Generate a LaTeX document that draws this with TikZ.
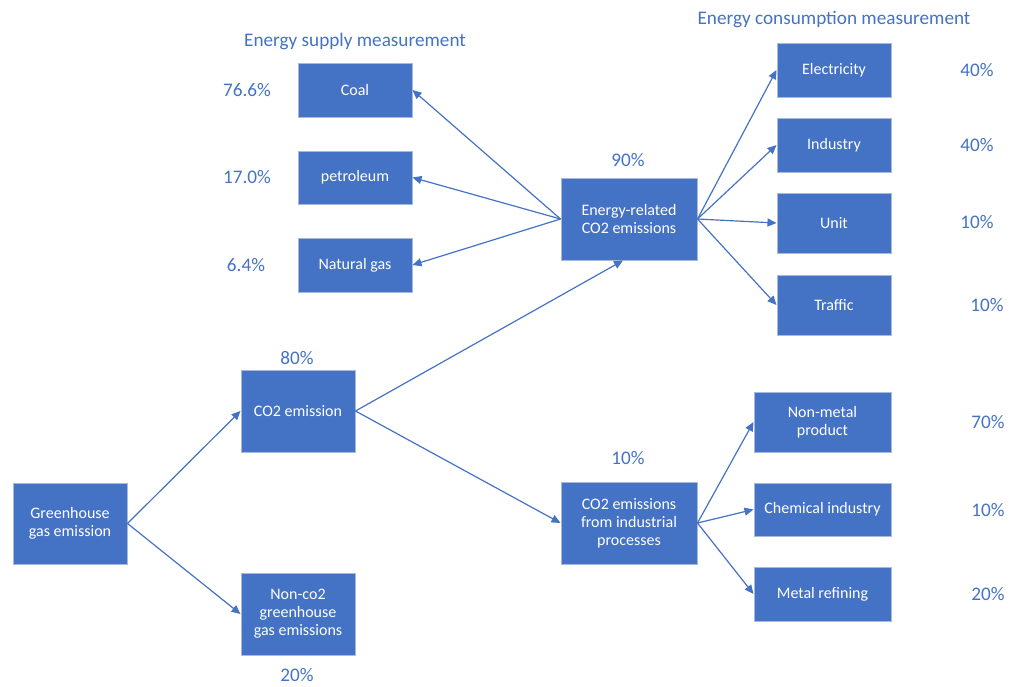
\documentclass[tikz,border=0pt]{standalone}
\usepackage{fontspec}
\setmainfont{Carlito}
\usetikzlibrary{arrows.meta}
\definecolor{boxblue}{HTML}{4472C4}
\definecolor{boxedge}{HTML}{A9B9DD}
\tikzset{
  box/.style={rectangle, fill=boxblue, draw=boxedge, line width=1pt, text=white, align=center,
    font=\fontsize{16}{18}\selectfont, inner sep=2pt},
  pct/.style={text=boxblue, font=\fontsize{19.2}{22}\selectfont, inner sep=0pt},
  ttl/.style={text=boxblue, font=\fontsize{19.2}{22}\selectfont, inner sep=0pt},
  arr/.style={draw=boxblue, line width=1.2pt, -{Triangle[length=9pt,width=8pt]}}
}
\begin{document}
\begin{tikzpicture}[x=1pt,y=-1pt]
\useasboundingbox (0,0) rectangle (1010,686);
% boxes
\node[box, minimum width=114pt, minimum height=81pt] (gh) at (70,523.5) {Greenhouse\\gas emission};
\node[box, minimum width=114pt, minimum height=82pt] (co2) at (298,411) {CO2 emission};
\node[box, minimum width=114pt, minimum height=82pt] (nonco2) at (298,614) {Non-co2\\greenhouse\\gas emissions};
\node[box, minimum width=114pt, minimum height=54pt] (coal) at (355,90) {Coal};
\node[box, minimum width=114pt, minimum height=53pt] (pet) at (355,177.5) {petroleum};
\node[box, minimum width=114pt, minimum height=54pt] (ng) at (355,265) {Natural gas};
\node[box, minimum width=136pt, minimum height=82pt] (er) at (629,219) {Energy-related\\CO2 emissions};
\node[box, minimum width=136pt, minimum height=82pt] (ip) at (629,523) {CO2 emissions\\from industrial\\processes};
\node[box, minimum width=114pt, minimum height=54pt] (elec) at (834,70) {Electricity};
\node[box, minimum width=114pt, minimum height=54pt] (indus) at (834,145) {Industry};
\node[box, minimum width=114pt, minimum height=60pt] (unit) at (834,223) {Unit};
\node[box, minimum width=114pt, minimum height=60pt] (traffic) at (834,305) {Traffic};
\node[box, minimum width=137pt, minimum height=60pt] (nonmetal) at (822.5,422) {Non-metal\\product};
\node[box, minimum width=137pt, minimum height=53pt] (chem) at (822.5,509.5) {Chemical industry};
\node[box, minimum width=137pt, minimum height=54pt] (metal) at (822.5,594) {Metal refining};
% titles
\node[ttl] (tsup) at (355,41) {Energy supply measurement};
\node[ttl] (tcon) at (834,20) {Energy consumption measurement};
% percentages
\node[pct] (p80) at (297,358) {80\%};
\node[pct] (p20) at (297,675) {20\%};
\node[pct] (pcoal) at (247,90) {76.6\%};
\node[pct] (ppet) at (247,177) {17.0\%};
\node[pct] (png) at (246,265) {6.4\%};
\node[pct] (p90) at (628,160) {90\%};
\node[pct] (p10a) at (628,458) {10\%};
\node[pct] (pelec) at (977,70) {40\%};
\node[pct] (pindus) at (977,145) {40\%};
\node[pct] (punit) at (977,222) {10\%};
\node[pct] (ptraffic) at (987,305) {10\%};
\node[pct] (pnonmetal) at (988,422) {70\%};
\node[pct] (pchem) at (988,510) {10\%};
\node[pct] (pmetal) at (988,594) {20\%};
% connectors
\draw[arr] (gh.east) -- (co2.west);
\draw[arr] (gh.east) -- (nonco2.west);
\draw[arr] (co2.east) -- ([xshift=-6pt]er.south);
\draw[arr] (co2.east) -- (ip.west);
\draw[arr] (er.west) -- (coal.east);
\draw[arr] (er.west) -- (pet.east);
\draw[arr] (er.west) -- (ng.east);
\draw[arr] (er.east) -- (elec.west);
\draw[arr] (er.east) -- (indus.west);
\draw[arr] (er.east) -- (unit.west);
\draw[arr] (er.east) -- (traffic.west);
\draw[arr] (ip.east) -- (nonmetal.west);
\draw[arr] (ip.east) -- (chem.west);
\draw[arr] (ip.east) -- (metal.west);
\end{tikzpicture}
\end{document}
